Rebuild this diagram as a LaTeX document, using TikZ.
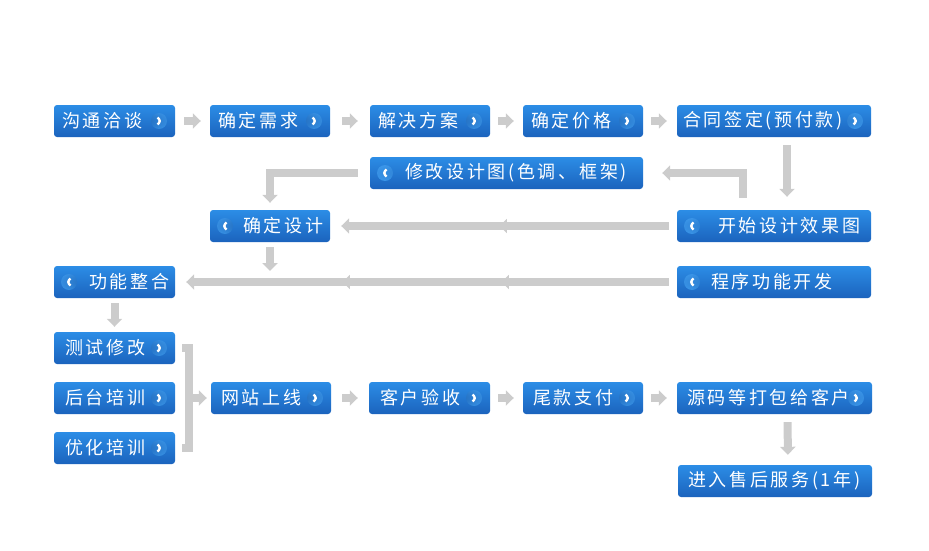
\documentclass[tikz,border=0pt]{standalone}
\usepackage{fontspec}
\newfontfamily\cnfont[LetterSpace=15]{Noto Sans CJK SC}
\usetikzlibrary{arrows.meta}
\usetikzlibrary{decorations.markings}

\definecolor{boxtop}{HTML}{2C8DE6}
\definecolor{boxbot}{HTML}{1B63BD}
\definecolor{arrowgray}{HTML}{CCCCCC}
\definecolor{icondark}{HTML}{0A4596}
\definecolor{iconlight}{HTML}{3A95E8}

\begin{document}
\begin{tikzpicture}[x=1pt,y=-1pt,
    stepbox/.style={rectangle,rounded corners=3pt,top color=boxtop,bottom color=boxbot,
      minimum height=32pt,inner xsep=0pt,inner ysep=0pt,text width=#1,align=left,
      text=white,font=\cnfont\fontsize{18}{20}\selectfont},
    nextbtn/.style={path picture={
      \shade[inner color=icondark,outer color=iconlight] ([xshift=-16pt]path picture bounding box.east) circle (8pt);
      \draw[white,line width=2.4pt] ([xshift=-17.5pt,yshift=3.5pt]path picture bounding box.east) -- ++(3.5pt,-3.5pt) -- ++(-3.5pt,-3.5pt);
    }},
    backbtn/.style={path picture={
      \shade[inner color=icondark,outer color=iconlight] ([xshift=15pt]path picture bounding box.west) circle (8pt);
      \draw[white,line width=2.4pt] ([xshift=16.5pt,yshift=3.5pt]path picture bounding box.west) -- ++(-3.5pt,-3.5pt) -- ++(3.5pt,-3.5pt);
    }},
    garrow/.style={draw=arrowgray,line width=8pt,-{Triangle[width=15pt,length=8pt]}},
    gbar/.style={draw=arrowgray,line width=8pt},
    bump/.style={postaction={decorate,decoration={markings,
      mark=at position #1 with {\arrow[arrowgray]{Triangle[width=14pt,length=7pt]}}}}}
  ]

  % white page with the reference's margins
  \useasboundingbox (0,0) rectangle (929,551);

  % row 1
  \node[stepbox=121pt,nextbtn] (talk) at (114.5,121) {\hspace*{8pt}沟通洽谈};
  \node[stepbox=120pt,nextbtn] (need) at (270,121) {\hspace*{8pt}确定需求};
  \node[stepbox=120pt,nextbtn] (plan) at (430,121) {\hspace*{8pt}解决方案};
  \node[stepbox=120pt,nextbtn] (price) at (583,121) {\hspace*{8pt}确定价格};
  \node[stepbox=194pt,nextbtn] (contract) at (774,121) {\hspace*{6pt}合同签定(预付款)};

  % design loop
  \node[stepbox=273pt,backbtn] (modify) at (506.5,173) {\hspace*{35pt}修改设计图(色调、框架)};
  \node[stepbox=120pt,backbtn] (confirm) at (270,226) {\hspace*{33pt}确定设计};
  \node[stepbox=194pt,backbtn] (design) at (774,226) {\hspace*{41pt}开始设计效果图};
  \node[stepbox=121pt,backbtn] (merge) at (114.5,282) {\hspace*{35pt}功能整合};
  \node[stepbox=194pt,backbtn] (develop) at (774,282) {\hspace*{34pt}程序功能开发};

  % left column
  \node[stepbox=121pt,nextbtn] (test) at (114.5,348) {\hspace*{11pt}测试修改};
  \node[stepbox=121pt,nextbtn] (train) at (114.5,398) {\hspace*{11pt}后台培训};
  \node[stepbox=121pt,nextbtn] (optimize) at (114.5,448) {\hspace*{11pt}优化培训};

  % last row
  \node[stepbox=120pt,nextbtn] (site) at (271,398) {\hspace*{10pt}网站上线};
  \node[stepbox=121pt,nextbtn] (accept) at (429.5,398) {\hspace*{11pt}客户验收};
  \node[stepbox=120pt,nextbtn] (pay) at (583,398) {\hspace*{10pt}尾款支付};
  \node[stepbox=195pt,nextbtn] (deliver) at (774.5,398) {\hspace*{10pt}源码等打包给客户};
  \node[stepbox=194pt] (service) at (775,481) {\hspace*{10pt}进入售后服务(1年)};

  \coordinate (join) at (270,271);
  \coordinate (brk) at (189,398);

  % short arrows
  \draw[garrow,shorten <=9pt,shorten >=9pt] (talk) -- (need);
  \draw[garrow,shorten <=12pt,shorten >=12pt] (need) -- (plan);
  \draw[garrow,shorten <=8pt,shorten >=9pt] (plan) -- (price);
  \draw[garrow,shorten <=8pt,shorten >=10pt] (price) -- (contract);
  \draw[garrow,shorten <=11pt,shorten >=11pt] (site) -- (accept);
  \draw[garrow,shorten <=8pt,shorten >=9pt] (accept) -- (pay);
  \draw[garrow,shorten <=8pt,shorten >=10pt] (pay) -- (deliver);

  % down arrows
  \draw[garrow,shorten <=8pt,shorten >=13pt] ([xshift=13pt]contract.south) -- ([xshift=13pt]design.north);
  \draw[garrow,shorten <=5pt] (confirm.south) -- (join);
  \draw[garrow,shorten <=5pt,shorten >=5pt] (merge) -- (test);
  \draw[garrow,shorten <=8pt,shorten >=10pt] ([xshift=13pt]deliver.south) -- ([xshift=13pt]service.north);

  % hooks round the design loop
  \draw[garrow,shorten <=12pt,shorten >=19pt] ([xshift=-31pt]design.north) |- (modify.east);
  \draw[garrow,shorten <=12pt,shorten >=7pt] (modify.west) -| (confirm.north);

  % long arrows
  \draw[garrow,shorten <=8pt,shorten >=11pt,bump=177pt] (design) -- (confirm);
  \draw[garrow,shorten <=8pt,shorten >=11pt,bump=175pt,bump=334pt] (develop) -- (merge);

  % bracket to the last row
  \draw[gbar] ([xshift=7pt]test.east) -| (brk) |- ([xshift=7pt]optimize.east);
  \draw[garrow,shorten >=4pt] (brk) -- (site);

\end{tikzpicture}
\end{document}
